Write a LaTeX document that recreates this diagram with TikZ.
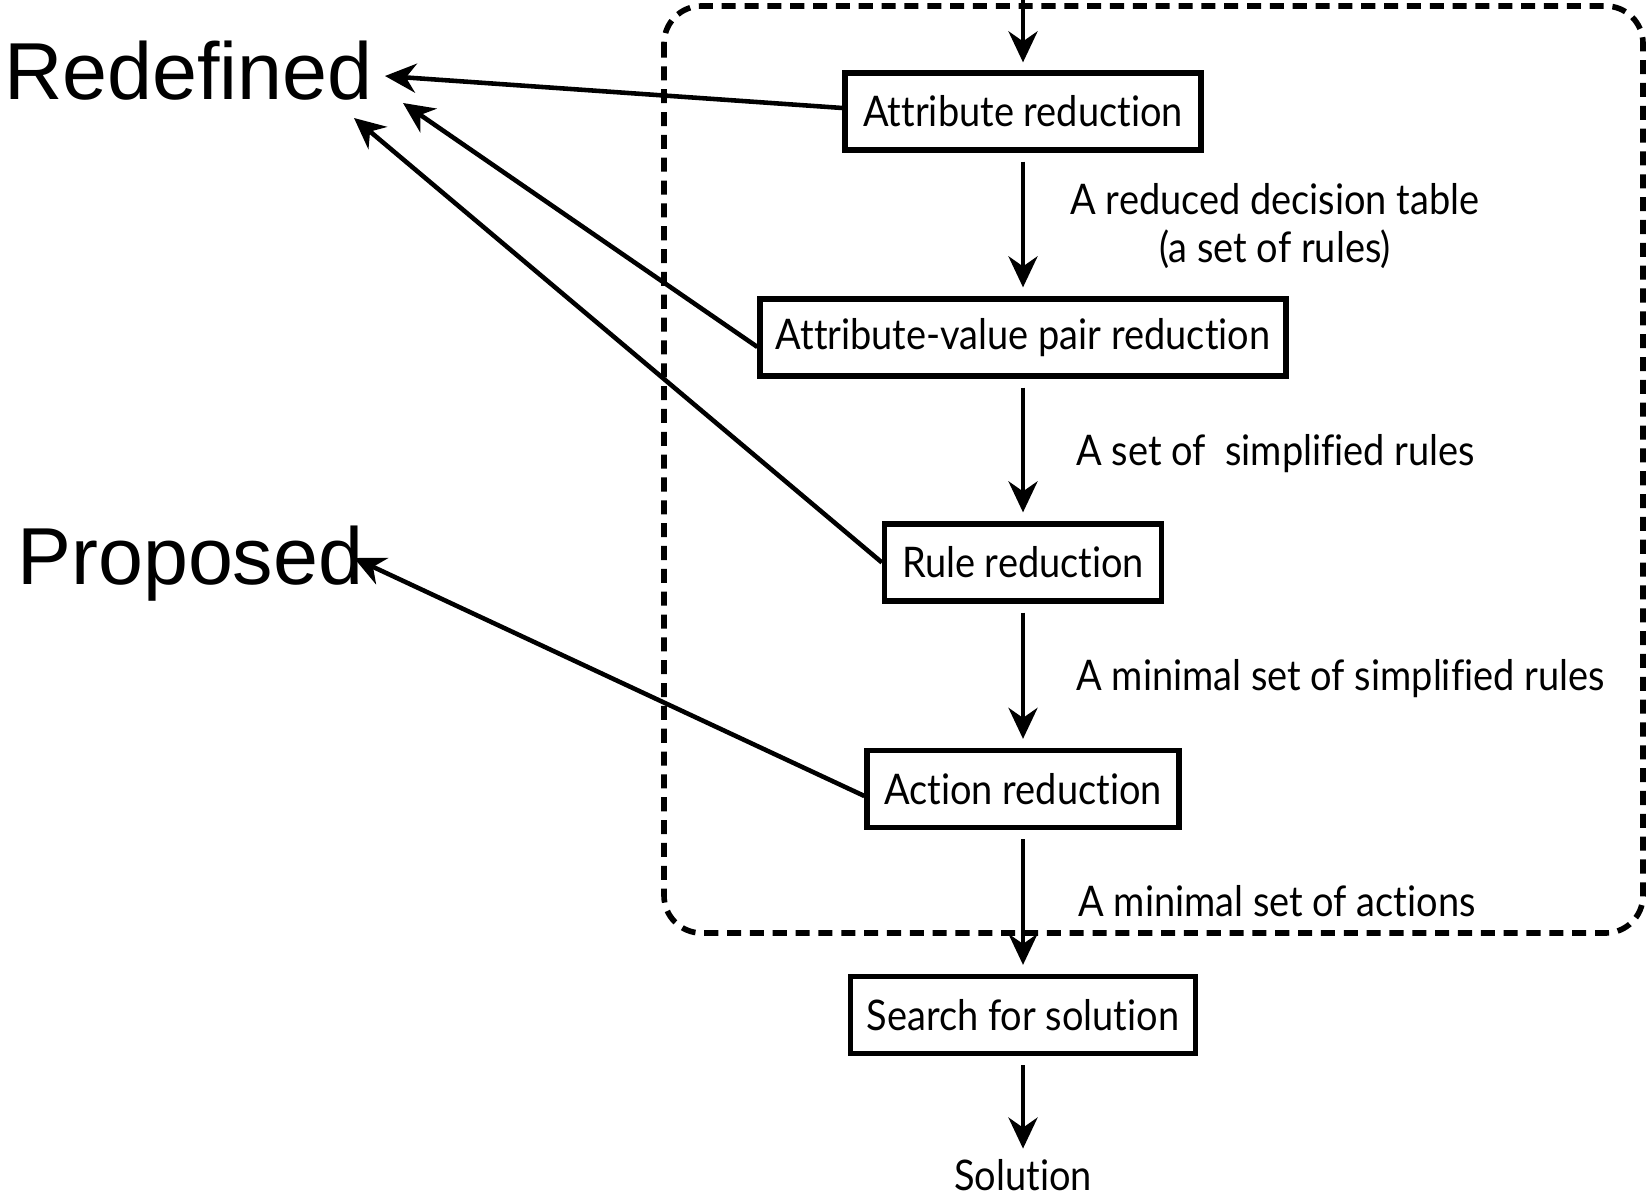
\documentclass[tikz,border=0pt]{standalone}
\usepackage{fontspec}
\setmainfont{Lato}
\newfontfamily\bigfont{Liberation Sans}
\newfontfamily\boxfont[FakeStretch=0.9,Ligatures={NoCommon,NoContextual}]{Lato}
\usetikzlibrary{arrows.meta,calc}
\begin{document}
\begin{tikzpicture}[x=0.02cm,y=-0.02cm,
  stepbox/.style={draw,line width=3pt,minimum height=1.54cm,inner sep=0pt,
    font=\boxfont\fontsize{24}{28}\selectfont},
  flow/.style={line width=2.6pt,-{Stealth[length=0.62cm,width=0.58cm,inset=0.2cm]}},
  gap/.style={shorten <=0.18cm,shorten >=0.18cm},
  note/.style={font=\boxfont\fontsize{24}{28}\selectfont,inner sep=0pt,anchor=base west},
  big/.style={font=\bigfont\fontsize{46}{54}\selectfont,inner sep=0pt,anchor=base west},
  frame/.style={line width=3.2pt,dash pattern=on 8pt off 5pt,rounded corners=0.75cm}]
\useasboundingbox (0,0) rectangle (1648,1199);

% dashed region around the reduction steps
\draw[frame] (664,6) rectangle (1643,933);

% reduction steps
\node[stepbox,minimum width=7.12cm]  (ar)  at (1023,111.5) {Attribute reduction};
\node[stepbox,minimum width=10.52cm] (avp) at (1023,337.5) {Attribute-value pair reduction};
\node[stepbox,minimum width=5.54cm]  (rr)  at (1023,562.5) {Rule reduction};
\node[stepbox,minimum width=6.24cm]  (acr) at (1023,789)   {Action reduction};
\node[stepbox,minimum width=6.9cm]   (sfs) at (1023,1015)  {Search for solution};
\node[note,anchor=base] (sol) at (1023,1190) {Solution};
\coordinate (entry) at (1023,0);

% intermediate results
\node[note,anchor=base] (n1a) at (1275,215) {A reduced decision table};
\node[note,anchor=base] (n1b) at (1275,263) {(a set of rules)};
\node[note] (n2) at (1076,465) {A set of\ \ simplified rules};
\node[note] (n3) at (1076,690) {A minimal set of simplified rules};
\node[note] (n4) at (1078,916) {A minimal set of actions};

% main flow
\draw[flow,shorten >=0.16cm] (entry) -- (ar.north);
\draw[flow,gap] (ar.south)  -- (avp.north);
\draw[flow,gap] (avp.south) -- (rr.north);
\draw[flow,gap] (rr.south)  -- (acr.north);
\draw[flow,gap] (acr.south) -- (sfs.north);
\draw[flow,shorten <=0.18cm,shorten >=0.2cm] (sfs.south) -- (sol.north);

% classification labels
\node[big] (redef) at (4,100) {Redefined};
\node[big] (prop)  at (17,584) {Proposed};
\coordinate (t1) at (385,76);
\coordinate (t2) at (403,103);
\coordinate (t3) at (354,118);
\coordinate (t4) at (354,558);
\draw[flow] ([yshift=0.07cm]ar.west)   -- (t1);
\draw[flow] ([yshift=-0.19cm]avp.west) -- (t2);
\draw[flow] (rr.west)                  -- (t3);
\draw[flow] ([yshift=-0.14cm]acr.west) -- (t4);
\end{tikzpicture}
\end{document}
